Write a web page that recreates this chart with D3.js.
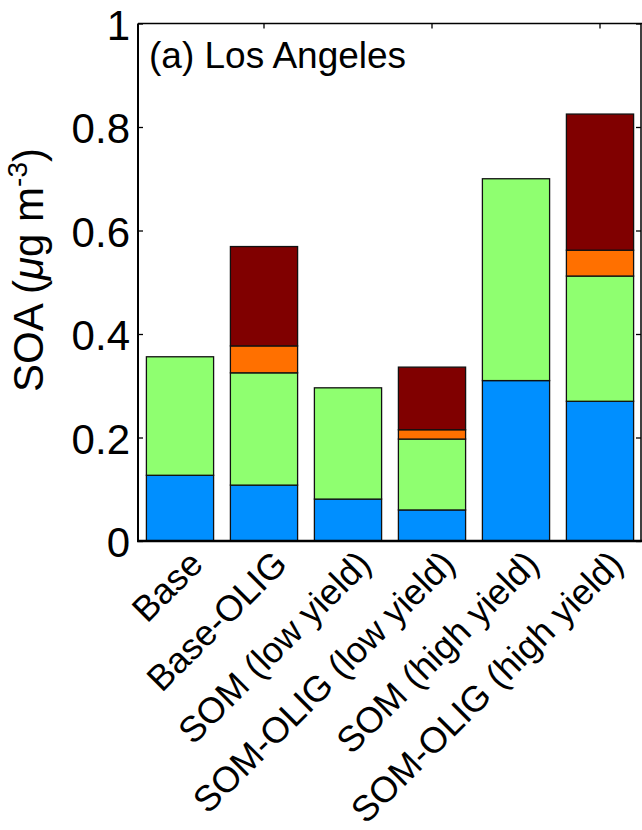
<script src="https://d3js.org/d3.v7.min.js"></script>
<style>
  body { margin: 0; background: #fff; }
  text { font-family: "Liberation Sans", Arial, Helvetica, sans-serif; fill: #000; }
</style>
<div id="chart"></div>
<script>
var width = 642, height = 830;

// scenarios along the x axis
var scenarios = ["Base", "Base-OLIG", "SOM (low yield)", "SOM-OLIG (low yield)", "SOM (high yield)", "SOM-OLIG (high yield)"];

// stacked pieces, bottom to top (ug m-3)
var blueSeg   = [0.127, 0.108, 0.081, 0.060, 0.310, 0.270];
var greenSeg  = [0.229, 0.217, 0.215, 0.137, 0.390, 0.242];
var orangeSeg = [0.000, 0.052, 0.000, 0.018, 0.000, 0.050];
var redSeg    = [0.000, 0.192, 0.000, 0.121, 0.000, 0.263];

var keys = ["blue", "green", "orange", "red"];
var colors = ["#008fff", "#8fff70", "#ff7000", "#800000"];

var yTicks = [0, 0.2, 0.4, 0.6, 0.8, 1];
var yTickLabels = ["0", "0.2", "0.4", "0.6", "0.8", "1"];

var rows = scenarios.map(function(s, i) {
  return { name: s, blue: blueSeg[i], green: greenSeg[i], orange: orangeSeg[i], red: redSeg[i] };
});

var mLeft = 138, mRight = 642, mTop = 23.5, mBottom = 541;

var svg = d3.select("#chart").append("svg")
  .attr("width", width)
  .attr("height", height);

var x = d3.scaleBand()
  .domain(scenarios)
  .range([mLeft, mRight])
  .paddingInner(0.2)
  .paddingOuter(0.1);

var y = d3.scaleLinear()
  .domain([0, 1])
  .range([mBottom, mTop]);

var color = d3.scaleOrdinal().domain(keys).range(colors);

var stacked = d3.stack().keys(keys)(rows);

svg.append("g")
  .selectAll("g")
  .data(stacked)
  .enter().append("g")
    .attr("fill", function(d) { return color(d.key); })
  .selectAll("rect")
  .data(function(d) { return d; })
  .enter().append("rect")
    .attr("x", function(d) { return x(d.data.name); })
    .attr("width", x.bandwidth())
    .attr("y", function(d) { return y(d[1]); })
    .attr("height", function(d) { return y(d[0]) - y(d[1]); })
    .attr("stroke", "#111")
    .attr("stroke-width", 1.3);

var axisG = svg.append("g");

var yAxisL = d3.axisLeft(y).tickValues(yTicks).tickSize(-5).tickPadding(8)
  .tickFormat(function(d, i) { return yTickLabels[i]; });
axisG.append("g")
  .attr("transform", "translate(" + mLeft + ",0)")
  .call(yAxisL)
  .call(function(g) {
    g.select(".domain").remove();
    g.selectAll("text").attr("font-size", 42).attr("dy", "0.37em")
      .attr("font-family", "Liberation Sans, Arial, sans-serif");
    g.selectAll("line").attr("stroke-width", 1.3);
  });

var yAxisR = d3.axisRight(y).tickValues(yTicks).tickSize(-5).tickFormat("");
axisG.append("g")
  .attr("transform", "translate(" + (mRight - 1) + ",0)")
  .call(yAxisR)
  .call(function(g) {
    g.select(".domain").remove();
    g.selectAll("line").attr("stroke-width", 1.3);
  });

var topTicks = [scenarios[1], scenarios[3], scenarios[5]];
var xAxisT = d3.axisTop(x).tickValues(topTicks).tickSize(-5).tickFormat("");
axisG.append("g")
  .attr("transform", "translate(0," + mTop + ")")
  .call(xAxisT)
  .call(function(g) {
    g.select(".domain").remove();
    g.selectAll("line").attr("stroke-width", 1.3);
  });

axisG.append("line")
  .attr("x1", mLeft).attr("x2", mRight)
  .attr("y1", mTop).attr("y2", mTop)
  .attr("stroke", "#000").attr("stroke-width", 1.5);
axisG.append("line")
  .attr("x1", mRight - 1).attr("x2", mRight - 1)
  .attr("y1", mTop).attr("y2", mBottom)
  .attr("stroke", "#000").attr("stroke-width", 1.5);
axisG.append("line")
  .attr("x1", mLeft).attr("x2", mLeft)
  .attr("y1", mTop).attr("y2", mBottom + 1)
  .attr("stroke", "#000").attr("stroke-width", 2);
axisG.append("line")
  .attr("x1", mLeft - 1).attr("x2", mRight)
  .attr("y1", mBottom).attr("y2", mBottom)
  .attr("stroke", "#000").attr("stroke-width", 2.5);

// rotated category labels
var xAxisB = d3.axisBottom(x).tickSize(0).tickPadding(0);
axisG.append("g")
  .attr("transform", "translate(0," + mBottom + ")")
  .call(xAxisB)
  .call(function(g) {
    g.select(".domain").remove();
    g.selectAll("text")
      .attr("font-size", 36)
      .attr("font-family", "Liberation Sans, Arial, sans-serif")
      .attr("text-anchor", "end")
      .attr("dy", null)
      .attr("y", 0)
      .attr("transform", "translate(25,25) rotate(-45)");
  });

// panel label
svg.append("text")
  .attr("x", 149)
  .attr("y", 68)
  .attr("font-size", 37)
  .text("(a) Los Angeles");

// y label
var yl = svg.append("text")
  .attr("transform", "translate(43,270) rotate(-90)")
  .attr("text-anchor", "middle")
  .attr("font-size", 42);
yl.append("tspan").text("SOA (");
yl.append("tspan").attr("font-style", "italic").text("\u03bc");
yl.append("tspan").text("g m");
yl.append("tspan").attr("font-size", 28).attr("dy", -16).text("-3");
yl.append("tspan").attr("dy", 16).text(")");
</script>
